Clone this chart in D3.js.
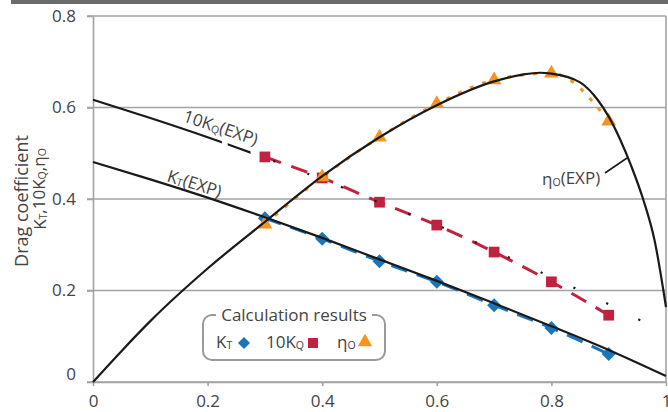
<!DOCTYPE html>
<html>
<head>
<meta charset="utf-8">
<script src="https://cdn.jsdelivr.net/npm/d3@7"></script>
<style>
body { margin: 0; background: #fff; }
svg text { font-family: "Open Sans", "Noto Sans", sans-serif; fill: #444; }
</style>
</head>
<body>
<div class="chart"></div>
<script>
// calculation results (markers)
var xCalc = [0.3, 0.4, 0.5, 0.6, 0.7, 0.8, 0.9];
var ktCalc = [0.358, 0.313, 0.264, 0.219, 0.168, 0.118, 0.061];
var kqCalc = [0.492, 0.446, 0.393, 0.343, 0.284, 0.219, 0.146];
var etaCalc = [0.345, 0.448, 0.535, 0.608, 0.660, 0.675, 0.570];

// experiment curves
var xExp = [0, 0.1, 0.2, 0.3, 0.4, 0.5, 0.6, 0.7, 0.8, 0.9, 1.0];
var ktExp = [0.481, 0.443, 0.403, 0.360, 0.315, 0.268, 0.221, 0.172, 0.122, 0.070, 0.013];
var kqExp = [0.617, 0.577, 0.535, 0.490, 0.443, 0.392, 0.343, 0.287, 0.229, 0.170, 0.105];
var etaX = [0, 0.05, 0.1, 0.2, 0.3, 0.4, 0.5, 0.6, 0.7, 0.75, 0.78, 0.8, 0.85, 0.88, 0.9, 0.92, 0.94, 0.96, 0.98, 1.0];
var etaExp = [0, 0.068, 0.133, 0.248, 0.350, 0.450, 0.535, 0.605, 0.657, 0.672, 0.676, 0.674, 0.655, 0.618, 0.580, 0.530, 0.470, 0.400, 0.310, 0.164];

var xTicks = [0, 0.2, 0.4, 0.6, 0.8, 1];
var yTicks = [0, 0.2, 0.4, 0.6, 0.8];

var blue = "#1b75bb", red = "#c1223f", orange = "#f7941d";

var x = d3.scaleLinear().domain([0, 1]).range([93, 666]);
var y = d3.scaleLinear().domain([0, 0.8]).range([382, 16]);

function pts(xs, ys) {
    return xs.map(function(d, i){ return [d, ys[i]]; });
}

function sub(text, parts) {
    // parts: [[string, isSub, dy], ...]
    parts.forEach(function(p){
        var t = text.append("tspan").text(p[0]);
        if (p[1]) t.attr("font-size", "0.62em").attr("dy", "0.1em");
        else t.attr("dy", p[2] || null);
    });
}

var svg = d3.select(".chart").append("svg")
    .attr("width", 668)
    .attr("height", 412);

svg.append("rect")
    .attr("x", 11).attr("y", 0)
    .attr("width", 657).attr("height", 4)
    .attr("fill", "#6b6b6b");

// grid
svg.append("g").selectAll("line")
    .data(yTicks)
    .enter().append("line")
    .attr("x1", x(0) - 6).attr("x2", x(1))
    .attr("y1", function(d){ return y(d); })
    .attr("y2", function(d){ return y(d); })
    .attr("stroke", "#a3a3a3")
    .attr("stroke-width", 1.6);

svg.append("line")
    .attr("x1", x(1)).attr("x2", x(1))
    .attr("y1", y(0.8)).attr("y2", y(0))
    .attr("stroke", "#a3a3a3").attr("stroke-width", 1.6);

var yAxis = svg.append("g")
    .attr("transform", "translate(" + x(0) + ",0)")
    .call(d3.axisLeft(y).tickValues(yTicks).tickSize(6).tickSizeOuter(0).tickPadding(11)
        .tickFormat(function(d){ return d === 0 ? "0" : d3.format(".1f")(d); }));

var xAxis = svg.append("g")
    .attr("transform", "translate(0," + y(0) + ")")
    .call(d3.axisBottom(x).tickValues(xTicks).tickSize(4).tickSizeOuter(0).tickPadding(9)
        .tickFormat(function(d){ return d === 0 || d === 1 ? d3.format("d")(d) : d3.format(".1f")(d); }));

[xAxis, yAxis].forEach(function(a){
    a.selectAll("path, line").attr("stroke", "#a3a3a3").attr("stroke-width", 1.6);
    a.selectAll("text").attr("font-size", 17).attr("fill", "#555").attr("font-family", null);
});
yAxis.selectAll(".tick").filter(function(d){ return d === 0; }).select("text").attr("dy", "-0.15em");

// y title
svg.append("text")
    .attr("transform", "translate(28,201) rotate(-90)")
    .attr("text-anchor", "middle")
    .attr("font-size", 18)
    .attr("fill", "#333")
    .text("Drag coefficient");

var t2 = svg.append("text")
    .attr("transform", "translate(46,189) rotate(-90)")
    .attr("text-anchor", "middle")
    .attr("font-size", 17)
    .attr("fill", "#333");
sub(t2, [["K"], ["T", 1], [",10K", 0, "-0.1em"], ["Q", 1], [",η", 0, "-0.1em"], ["O", 1]]);

var line = d3.line()
    .x(function(d){ return x(d[0]); })
    .y(function(d){ return y(d[1]); })
    .curve(d3.curveMonotoneX);

// calculation dashed lines
var calc = [
    {vals: ktCalc, color: blue, dash: "17,10"},
    {vals: kqCalc, color: red, dash: "17,11"},
    {vals: etaCalc, color: orange, dash: "4,9"}
];

svg.append("g").selectAll("path")
    .data(calc)
    .enter().append("path")
    .attr("d", function(d){ return line(pts(xCalc, d.vals)); })
    .attr("fill", "none")
    .attr("stroke", function(d){ return d.color; })
    .attr("stroke-width", 3)
    .attr("stroke-dasharray", function(d){ return d.dash; });

// markers
var sq = d3.symbol().type(d3.symbolSquare);
var tri = d3.symbol().type(d3.symbolTriangle);

svg.append("g").selectAll("path")
    .data(pts(xCalc, ktCalc))
    .enter().append("path")
    .attr("d", sq.size(98)())
    .attr("transform", function(d){ return "translate(" + x(d[0]) + "," + y(d[1]) + ") rotate(45)"; })
    .attr("fill", blue);

svg.append("g").selectAll("path")
    .data(pts(xCalc, kqCalc))
    .enter().append("path")
    .attr("d", sq.size(115)())
    .attr("transform", function(d){ return "translate(" + x(d[0]) + "," + y(d[1]) + ")"; })
    .attr("fill", red);

svg.append("g").selectAll("path")
    .data(pts(xCalc, etaCalc))
    .enter().append("path")
    .attr("d", tri.size(95)())
    .attr("transform", function(d){ return "translate(" + x(d[0]) + "," + y(d[1]) + ")"; })
    .attr("fill", orange);

// experiment curves
var defs = svg.append("defs");
function clip(id, ranges) {
    var c = defs.append("clipPath").attr("id", id);
    ranges.forEach(function(r){
        c.append("rect")
            .attr("x", x(r[0])).attr("y", 0)
            .attr("width", x(r[1]) - x(r[0])).attr("height", 412);
    });
}
clip("kqSolid", [[-0.1, 0.225], [0.235, 0.275]]);
clip("kqDot", [[0.29, 1.1]]);

svg.append("path")
    .attr("d", line(pts(xExp, kqExp)))
    .attr("clip-path", "url(#kqSolid)")
    .attr("fill", "none").attr("stroke", "#1a1a1a").attr("stroke-width", 2.2);

var kqDot = svg.append("path")
    .attr("d", line(pts(xExp, kqExp)))
    .attr("clip-path", "url(#kqDot)")
    .attr("fill", "none").attr("stroke", "#1a1a1a").attr("stroke-width", 2.2)
    .attr("stroke-dasharray", "2.2,34");
// put a dot at about x = 0.314
var node = kqDot.node(), len = 0;
while (len < node.getTotalLength() && node.getPointAtLength(len).x < x(0.314)) len += 0.5;
kqDot.attr("stroke-dashoffset", -len % 36.2 + 36.2);

svg.append("path")
    .attr("d", line(pts(xExp, ktExp)))
    .attr("fill", "none").attr("stroke", "#1a1a1a").attr("stroke-width", 2.2);

svg.append("path")
    .attr("d", line(pts(etaX, etaExp)))
    .attr("fill", "none").attr("stroke", "#1a1a1a").attr("stroke-width", 2.2);

// curve labels
var l1 = svg.append("text")
    .attr("transform", "translate(182,121) rotate(19)")
    .attr("font-size", 17).attr("fill", "#222");
sub(l1, [["10K"], ["Q", 1], ["(EXP)", 0, "-0.1em"]]);

var l2 = svg.append("text")
    .attr("transform", "translate(166,181) rotate(18)")
    .attr("font-size", 17).attr("fill", "#222");
sub(l2, [["K"], ["T", 1], ["(EXP)", 0, "-0.1em"]]);

var l3 = svg.append("text")
    .attr("transform", "translate(542,185)")
    .attr("font-size", 17).attr("fill", "#222");
sub(l3, [["η"], ["O", 1], ["(EXP)", 0, "-0.1em"]]);

svg.append("line")
    .attr("x1", 605).attr("y1", 173)
    .attr("x2", 627).attr("y2", 158)
    .attr("stroke", "#1a1a1a").attr("stroke-width", 1.6);

// legend
var lg = svg.append("g");
lg.append("rect")
    .attr("x", 203).attr("y", 315)
    .attr("width", 182).attr("height", 45)
    .attr("rx", 9)
    .attr("fill", "#fff").attr("stroke", "#9a9a9a").attr("stroke-width", 2);
lg.append("rect")
    .attr("x", 216).attr("y", 305)
    .attr("width", 156).attr("height", 20)
    .attr("fill", "#fff");
lg.append("text")
    .attr("x", 294).attr("y", 321)
    .attr("text-anchor", "middle")
    .attr("font-size", 17).attr("fill", "#333")
    .text("Calculation results");

var items = [
    {label: [["K"], ["T", 1]], tx: 216, mx: 244, color: blue, shape: "diamond"},
    {label: [["10K"], ["Q", 1]], tx: 266, mx: 313, color: red, shape: "square"},
    {label: [["η"], ["O", 1]], tx: 337, mx: 365, color: orange, shape: "triangle"}
];
items.forEach(function(it){
    var t = lg.append("text")
        .attr("x", it.tx).attr("y", 348)
        .attr("font-size", 17).attr("fill", "#333");
    sub(t, it.label);
    var m = lg.append("path").attr("fill", it.color);
    if (it.shape === "diamond") m.attr("d", sq.size(72)()).attr("transform", "translate(" + it.mx + ",343) rotate(45)");
    if (it.shape === "square") m.attr("d", sq.size(100)()).attr("transform", "translate(" + it.mx + ",343)");
    if (it.shape === "triangle") m.attr("d", tri.size(90)()).attr("transform", "translate(" + it.mx + ",342)");
});
</script>
</body>
</html>
